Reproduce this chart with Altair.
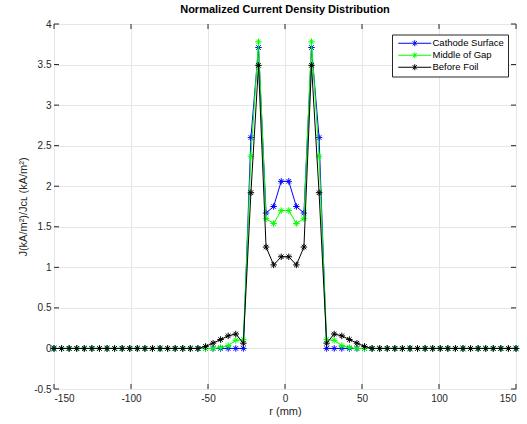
import altair as alt
import pandas as pd

# radial positions (mm), 62 evenly spaced samples from -150 to 150
r_mm = [-150.0, -145.082, -140.164, -135.246, -130.328, -125.41, -120.492, -115.574,
        -110.656, -105.738, -100.82, -95.902, -90.984, -86.066, -81.148, -76.23,
        -71.311, -66.393, -61.475, -56.557, -51.639, -46.721, -41.803, -36.885,
        -31.967, -27.049, -22.131, -17.213, -12.295, -7.377, -2.459,
        2.459, 7.377, 12.295, 17.213, 22.131, 27.049, 31.967, 36.885, 41.803,
        46.721, 51.639, 56.557, 61.475, 66.393, 71.311, 76.23, 81.148, 86.066,
        90.984, 95.902, 100.82, 105.738, 110.656, 115.574, 120.492, 125.41,
        130.328, 135.246, 140.164, 145.082, 150.0]

cathode = [0] * 26 + [2.60, 3.71, 1.67, 1.75, 2.06, 2.06, 1.75, 1.67, 3.71, 2.60] + [0] * 26
middle = [0] * 22 + [0.01, 0.035, 0.10, 0.11, 2.37, 3.78, 1.60, 1.54, 1.70,
                     1.70, 1.54, 1.60, 3.78, 2.37, 0.11, 0.10, 0.035, 0.01] + [0] * 22
foil = [0] * 20 + [0.025, 0.065, 0.11, 0.155, 0.178, 0.065, 1.92, 3.49, 1.25, 1.03, 1.13,
                   1.13, 1.03, 1.25, 3.49, 1.92, 0.065, 0.178, 0.155, 0.11, 0.065, 0.025] + [0] * 20

series_names = ["Cathode Surface", "Middle of Gap", "Before Foil"]
series_colors = ["#0000ff", "#00ff00", "#000000"]
x_ticks = [-150, -100, -50, 0, 50, 100, 150]
y_ticks = [-0.5, 0, 0.5, 1, 1.5, 2, 2.5, 3, 3.5, 4]

rows = []
for name, vals in zip(series_names, [cathode, middle, foil]):
    for i, (x, y) in enumerate(zip(r_mm, vals)):
        rows.append({"series": name, "r": x, "J": y, "order": i})
df = pd.DataFrame(rows)

W, H = 462, 365
FONT = "Liberation Sans"
AX = "#262626"
ASTER = "M-1,0L1,0M0,-1L0,1M-0.7,-0.7L0.7,0.7M-0.7,0.7L0.7,-0.7"
LEG_SYM = "M-5.5,0L5.5,0M0,-1L0,1M-0.7,-0.7L0.7,0.7M-0.7,0.7L0.7,-0.7"

xscale = alt.Scale(domain=[-150, 150], nice=False, zero=False)
yscale = alt.Scale(domain=[-0.5, 4], nice=False, zero=False)

xaxis = alt.Axis(title="r (mm)", values=x_ticks, tickSize=0, domain=False, grid=True,
                 gridColor="#e6e6e6", labelFont=FONT, labelFontSize=10, labelColor=AX,
                 labelExpr="'' + datum.value",
                 labelPadding=4, titleFont=FONT, titleFontSize=11, titleFontWeight="normal",
                 titleColor=AX, titlePadding=2)
yaxis = alt.Axis(title="J(kA/m²)/Jᴄʟ (kA/m²)", values=y_ticks, tickSize=0, domain=False, grid=True,
                 gridColor="#e6e6e6", labelFont=FONT, labelFontSize=10, labelColor=AX,
                 labelExpr="'' + datum.value",
                 labelPadding=3, titleFont=FONT, titleFontSize=11, titleFontWeight="normal",
                 titleColor=AX, titlePadding=5)

legend = alt.Legend(title=None, orient="none", legendX=338, legendY=10.5,
                    symbolType=LEG_SYM, symbolSize=36, symbolStrokeWidth=1,
                    symbolFillColor="transparent", symbolOffset=14, labelOffset=13,
                    padding=4, strokeColor=AX, fillColor="white", cornerRadius=0,
                    labelFont=FONT, labelFontSize=9.5, labelColor="#000000", rowPadding=1)

color = alt.Color("series:N", scale=alt.Scale(domain=series_names, range=series_colors),
                  legend=legend)

layers = []
for name in series_names:
    base = alt.Chart(df).transform_filter(alt.datum.series == name)
    line = base.mark_line(strokeWidth=1).encode(
        x=alt.X("r:Q", scale=xscale, axis=xaxis),
        y=alt.Y("J:Q", scale=yscale, axis=yaxis),
        color=color,
        order="order:Q",
    )
    pts = base.mark_point(shape=ASTER, filled=False, size=42, strokeWidth=1, opacity=1).encode(
        x=alt.X("r:Q", scale=xscale, axis=xaxis),
        y=alt.Y("J:Q", scale=yscale, axis=yaxis),
        color=color,
    )
    layers += [line, pts]

ydf = pd.DataFrame({"r": [0] * len(y_ticks), "J": y_ticks})
xdf = pd.DataFrame({"r": x_ticks, "J": [0] * len(x_ticks)})
tick_l = alt.Chart(ydf).mark_rule(color=AX, strokeWidth=1).encode(
    y=alt.Y("J:Q", scale=yscale, axis=yaxis), x=alt.value(0), x2=alt.value(5))
tick_r = alt.Chart(ydf).mark_rule(color=AX, strokeWidth=1).encode(
    y=alt.Y("J:Q", scale=yscale, axis=yaxis), x=alt.value(W - 5), x2=alt.value(W))
tick_b = alt.Chart(xdf).mark_rule(color=AX, strokeWidth=1).encode(
    x=alt.X("r:Q", scale=xscale, axis=xaxis), y=alt.value(H - 5), y2=alt.value(H))
tick_t = alt.Chart(xdf).mark_rule(color=AX, strokeWidth=1).encode(
    x=alt.X("r:Q", scale=xscale, axis=xaxis), y=alt.value(0), y2=alt.value(5))

chart = alt.layer(tick_l, tick_r, tick_b, tick_t, *layers).properties(
    width=W, height=H,
    title=alt.TitleParams("Normalized Current Density Distribution", font=FONT,
                          fontSize=11, fontWeight="bold", color="#000000", offset=4),
    autosize=alt.AutoSizeParams(type="none"),
    padding={"left": 54, "top": 24, "right": 11, "bottom": 35},
).configure_view(stroke=AX, strokeWidth=1).configure(background="white")

chart.save("out.html", embed_options={"renderer": "svg", "actions": False})
